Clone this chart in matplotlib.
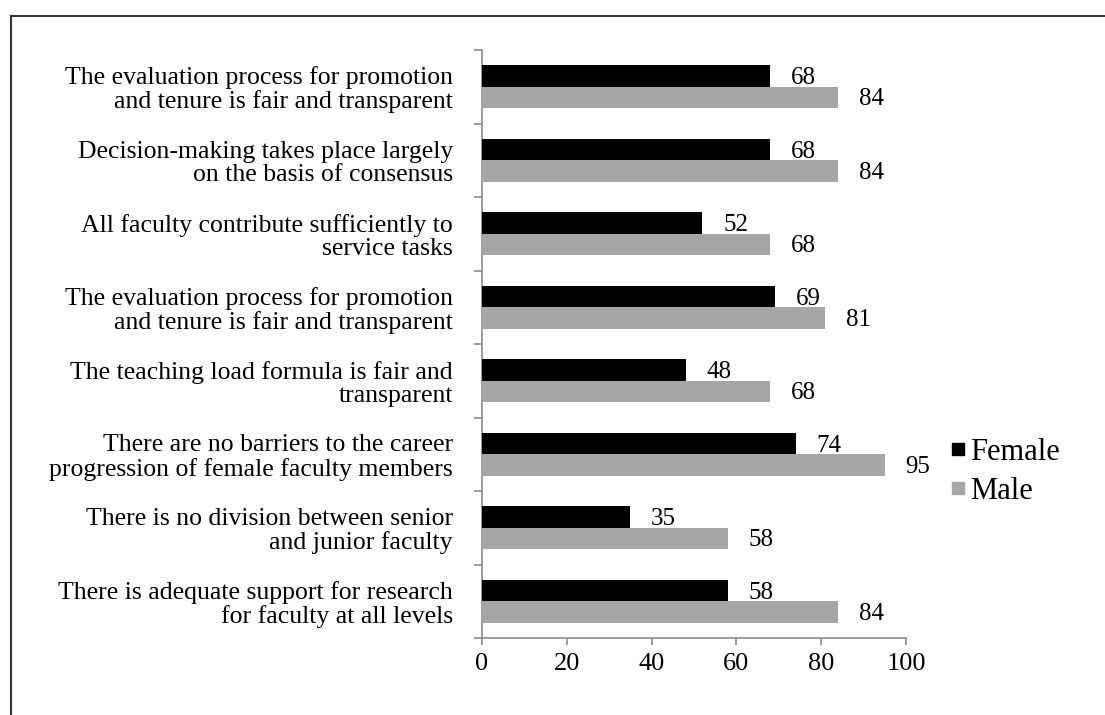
import numpy as np
import matplotlib
matplotlib.use('Agg')
import matplotlib.pyplot as plt
from matplotlib.lines import Line2D

plt.rcParams['font.family'] = ['Liberation Serif', 'DejaVu Serif']

categories = [
    'The evaluation process for promotion\nand tenure is fair and transparent',
    'Decision-making takes place largely\non the basis of consensus',
    'All faculty contribute sufficiently to\nservice tasks',
    'The evaluation process for promotion\nand tenure is fair and transparent',
    'The teaching load formula is fair and\ntransparent',
    'There are no barriers to the career\nprogression of female faculty members',
    'There is no division between senior\nand junior faculty',
    'There is adequate support for research\nfor faculty at all levels',
]
female = [68, 68, 52, 69, 48, 74, 35, 58]
male = [84, 84, 68, 81, 68, 95, 58, 84]
xticks = [0, 20, 40, 60, 80, 100]

c_female = '#000000'
c_male = '#a6a6a6'
spine_c = '#8c8c8c'

fig = plt.figure(figsize=(11.05, 7.15), dpi=100)
ax = fig.add_axes([482/1105, 1 - 638/715, (906-482)/1105, (638-50)/715])

y = np.arange(len(categories))
h = 0.29
ax.barh(y - h/2, female, height=h, color=c_female, zorder=3)
ax.barh(y + h/2, male, height=h, color=c_male, zorder=3)

for yi, v in zip(y, female):
    ax.annotate(str(v), (v, yi - h/2), xytext=(15, -1.5), textcoords='offset points',
                ha='left', va='center', fontsize=18)
for yi, v in zip(y, male):
    ax.annotate(str(v), (v, yi + h/2), xytext=(15, -1.5), textcoords='offset points',
                ha='left', va='center', fontsize=18)

ax.set_xlim(0, 100)
ax.set_ylim(len(categories) - 0.5, -0.5)
ax.set_xticks(xticks)
ax.set_xticklabels([str(t) for t in xticks], fontsize=19)
ax.set_yticks(y)
ax.set_yticklabels(categories, fontsize=18.5, ha='right', multialignment='right', linespacing=1.07)
ax.set_yticks(np.arange(-0.5, len(categories)), minor=True)
ax.tick_params(axis='y', which='major', length=0, pad=21)
ax.tick_params(axis='y', which='minor', length=6, width=1.2, color=spine_c, direction='out')
ax.tick_params(axis='x', which='major', length=5, width=1.2, color=spine_c, direction='out', pad=6)
ax.xaxis.set_minor_locator(matplotlib.ticker.NullLocator())

for s in ['top', 'right']:
    ax.spines[s].set_visible(False)
for s in ['left', 'bottom']:
    ax.spines[s].set_color(spine_c)
    ax.spines[s].set_linewidth(1.2)

handles = [Line2D([], [], marker='s', linestyle='none', color=c_female, markersize=8),
           Line2D([], [], marker='s', linestyle='none', color=c_male, markersize=8)]
fig.legend(handles, ['Female', 'Male'], loc='center left', bbox_to_anchor=(946/1105, 1 - 472/715),
           frameon=False, fontsize=22, handletextpad=0.0, labelspacing=0.32, handlelength=0.8,
           borderpad=0, borderaxespad=0)

# outer frame (top and left only)
fig.add_artist(Line2D([11/1105, 1], [1 - 16/715, 1 - 16/715], color='#333333', lw=1.5))
fig.add_artist(Line2D([11/1105, 11/1105], [0, 1 - 16/715], color='#333333', lw=1.5))

fig.savefig('out.png', dpi=100)
